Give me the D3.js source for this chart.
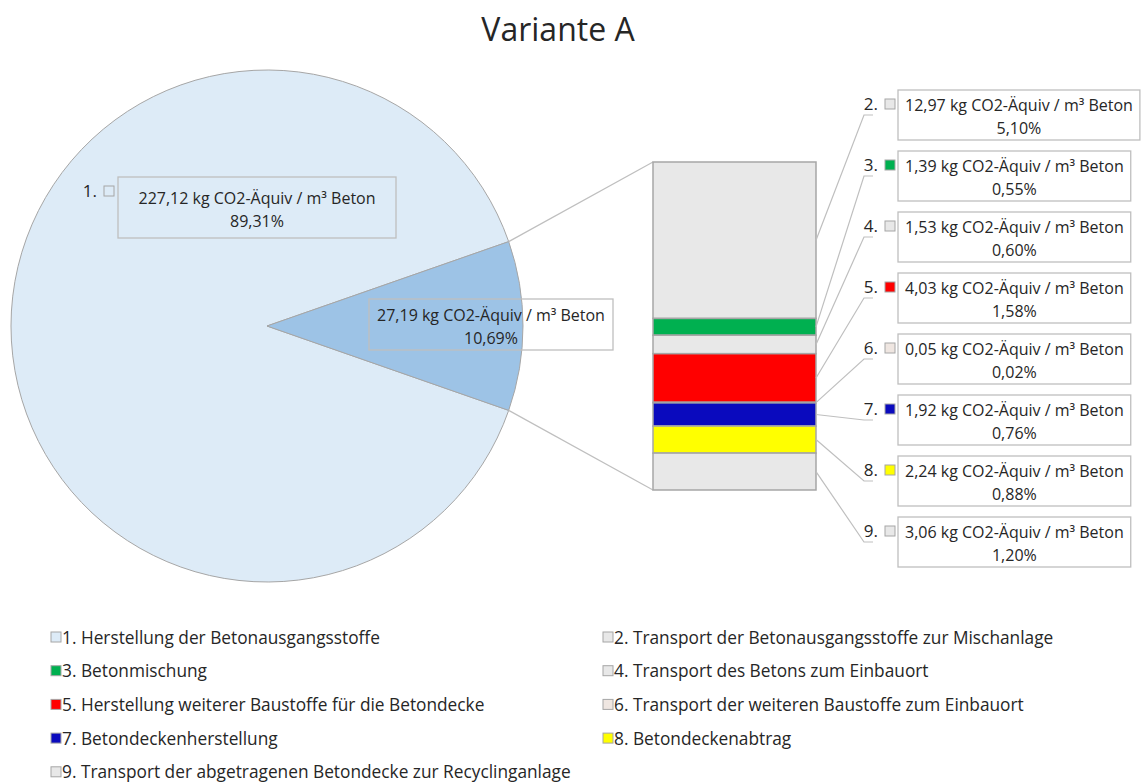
<!DOCTYPE html>
<html>
<head>
<meta charset="utf-8">
<script src="https://cdn.jsdelivr.net/npm/d3@7"></script>
<style>
  body { margin: 0; background: #ffffff; }
  text { font-family: "Open Sans", sans-serif; fill: #262626; }
</style>
</head>
<body>
<svg id="chart" width="1142" height="783"></svg>
<script>
// --- data ---------------------------------------------------------------
const chartTitle = "Variante A";
const stageNames = [
  "1. Herstellung der Betonausgangsstoffe",
  "2. Transport der Betonausgangsstoffe zur Mischanlage",
  "3. Betonmischung",
  "4. Transport des Betons zum Einbauort",
  "5. Herstellung weiterer Baustoffe für die Betondecke",
  "6. Transport der weiteren Baustoffe zum Einbauort",
  "7. Betondeckenherstellung",
  "8. Betondeckenabtrag",
  "9. Transport der abgetragenen Betondecke zur Recyclinganlage"
];
const stageValues = [227.12, 12.97, 1.39, 1.53, 4.03, 0.05, 1.92, 2.24, 3.06];
const stagePercents = ["89,31%", "5,10%", "0,55%", "0,60%", "1,58%", "0,02%", "0,76%", "0,88%", "1,20%"];
const otherPercent = "10,69%";
const stageColors = ["#DDEBF7", "#E8E8E8", "#00B050", "#E8E8E8", "#FF0000", "#EFE6E1", "#0A0ABE", "#FFFF00", "#E8E8E8"];
const otherColor = "#9DC3E6";
const unitLabel = " kg CO2-Äquiv / m³ Beton";

// --- helpers ------------------------------------------------------------
const de = d3.formatLocale({ decimal: ",", thousands: ".", grouping: [3], currency: ["", " €"] });
const fmt = de.format(".2f");
const svg = d3.select("#chart");
const lineGrey = "#BFBFBF";
const edgeGrey = "#A6A6A6";

// --- title --------------------------------------------------------------
svg.append("text")
  .attr("x", 558).attr("y", 41)
  .attr("text-anchor", "middle")
  .style("font-size", "32px")
  .text(chartTitle);

// --- pie of pie ---------------------------------------------------------
const cx = 267, cy = 326, radius = 256;
const otherValues = stageValues.slice(1);
const otherTotal = d3.sum(otherValues);
const grand = stageValues[0] + otherTotal;
const otherAngle = 2 * Math.PI * otherTotal / grand;
const pieData = [
  { key: "main", value: stageValues[0], color: stageColors[0] },
  { key: "other", value: otherTotal, color: otherColor }
];
const pie = d3.pie().sort(null).value(d => d.value)
  .startAngle(Math.PI / 2 + otherAngle / 2)
  .endAngle(Math.PI / 2 + otherAngle / 2 + 2 * Math.PI);
const arcs = pie(pieData);
const arc = d3.arc().innerRadius(0).outerRadius(radius);

const pieG = svg.append("g").attr("transform", `translate(${cx},${cy})`);
pieG.selectAll("path").data(arcs).join("path")
  .attr("d", arc)
  .attr("fill", d => d.data.color)
  .attr("stroke", edgeGrey)
  .attr("stroke-width", 1);

// --- stacked bar of the secondary part -----------------------------------
const barX0 = 653, barX1 = 816;
const yBar = d3.scaleLinear().domain([0, otherTotal]).range([162, 490]);
const stacked = [];
let acc = 0;
otherValues.forEach((v, i) => {
  stacked.push({ idx: i + 1, v, y0: acc, y1: acc + v });
  acc += v;
});

// connector lines between pie slice and bar
const otherArc = arcs[1];
const pt = a => [cx + radius * Math.sin(a), cy - radius * Math.cos(a)];
const topEdge = pt(otherArc.startAngle);  // upper slice edge
const botEdge = pt(otherArc.endAngle);    // lower slice edge
svg.append("line")
  .attr("x1", topEdge[0]).attr("y1", topEdge[1])
  .attr("x2", barX0).attr("y2", yBar(0))
  .attr("stroke", lineGrey).attr("stroke-width", 1.2);
svg.append("line")
  .attr("x1", botEdge[0]).attr("y1", botEdge[1])
  .attr("x2", barX0).attr("y2", yBar(otherTotal))
  .attr("stroke", lineGrey).attr("stroke-width", 1.2);

svg.append("g").selectAll("rect").data(stacked).join("rect")
  .attr("x", barX0)
  .attr("y", d => yBar(d.y0))
  .attr("width", barX1 - barX0)
  .attr("height", d => yBar(d.y1) - yBar(d.y0))
  .attr("fill", d => stageColors[d.idx])
  .attr("stroke", edgeGrey)
  .attr("stroke-width", 1.5);

// --- label helpers ------------------------------------------------------
function valueBox(g, x, y, w, h, lines) {
  g.append("rect")
    .attr("x", x).attr("y", y).attr("width", w).attr("height", h)
    .attr("fill", "none").attr("stroke", lineGrey).attr("stroke-width", 1.3);
  const mid = y + h / 2;
  const tx = x + w / 2;
  g.append("text").attr("x", tx).attr("y", mid - 4)
    .attr("text-anchor", "middle").style("font-size", "16px").text(lines[0]);
  g.append("text").attr("x", tx).attr("y", mid + 19)
    .attr("text-anchor", "middle").style("font-size", "16px").text(lines[1]);
}
function numberTag(g, rightX, centerY, num, color) {
  g.append("text").attr("x", rightX).attr("y", centerY + 6)
    .attr("text-anchor", "end").style("font-size", "17px").text(num + ".");
  g.append("rect")
    .attr("x", rightX + 7).attr("y", centerY - 5).attr("width", 10).attr("height", 10)
    .attr("fill", color).attr("stroke", edgeGrey).attr("stroke-width", 1);
}

// label for the main slice
const lab = svg.append("g");
valueBox(lab, 118, 177, 278, 61, [fmt(stageValues[0]) + unitLabel, stagePercents[0]]);
numberTag(lab, 97, 191, 1, stageColors[0]);

// label for the aggregated slice
valueBox(lab, 369, 299, 244, 51, [fmt(otherTotal) + unitLabel, otherPercent]);

// labels for the bar segments
const boxTop0 = 90, boxStep = 61, boxH = 50, boxX = 898;
stacked.forEach((d, i) => {
  const g = svg.append("g");
  const top = boxTop0 + i * boxStep;
  const mid = top + boxH / 2;
  // leader line
  const segMid = yBar((d.y0 + d.y1) / 2);
  g.append("polyline")
    .attr("points", `${barX1},${segMid} 864,${mid} 873,${mid}`)
    .attr("fill", "none").attr("stroke", lineGrey).attr("stroke-width", 1.2);
  // measure text to size the box
  const line1 = fmt(d.v) + unitLabel;
  const probe = g.append("text").style("font-size", "16px").text(line1);
  const tw = probe.node().getComputedTextLength();
  probe.remove();
  valueBox(g, boxX, top, tw + 14, boxH, [line1, stagePercents[d.idx]]);
  numberTag(g, 878, top + 14, d.idx + 1, stageColors[d.idx]);
});

// --- legend -------------------------------------------------------------
const legendCols = [51, 603];
const legendRow0 = 637, legendStep = 33.7;
const leg = svg.append("g");
stageNames.forEach((name, i) => {
  const col = i % 2, row = Math.floor(i / 2);
  const x = legendCols[col], yc = legendRow0 + row * legendStep;
  leg.append("rect")
    .attr("x", x).attr("y", yc - 5).attr("width", 10).attr("height", 10)
    .attr("fill", stageColors[i]).attr("stroke", edgeGrey).attr("stroke-width", 1);
  leg.append("text")
    .attr("x", x + 11).attr("y", yc + 6.5)
    .style("font-size", "17.3px")
    .text(name);
});
</script>
</body>
</html>
